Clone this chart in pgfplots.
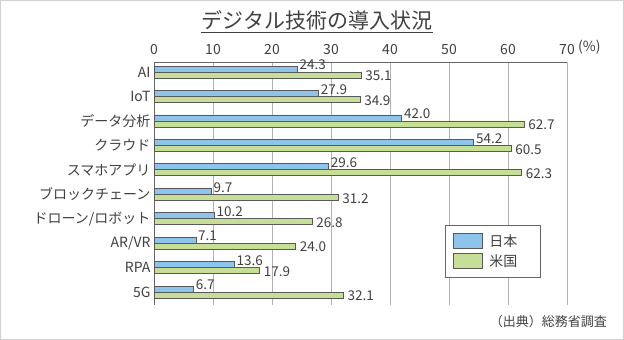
\documentclass[border=0pt]{standalone}
\usepackage{pgfplots}
\pgfplotsset{compat=1.18}
\usepackage{fontspec}
\setmainfont{Noto Sans CJK JP}
\definecolor{jpblue}{HTML}{8EC4EC}
\definecolor{usgreen}{HTML}{C6DE96}
\definecolor{txt}{HTML}{404040}
\begin{document}
\begin{tikzpicture}[x=1pt,y=1pt]
\draw[black!18, line width=1pt] (0.5,0.5) rectangle (623.5,339.5);
\node[font=\fontsize{21}{23}\selectfont, text=txt, inner sep=1pt] (t) at (317,320) {デジタル技術の導入状況};
\draw[txt, line width=0.8pt] ([yshift=-1pt]t.south west) -- ([yshift=-1pt]t.south east);
\begin{axis}[
 at={(154pt,35pt)}, anchor=south west, scale only axis,
 width=413pt, height=243pt,
 xbar, bar width=6pt,
 xmin=0, xmax=70, ymin=-0.41, ymax=9.53, y dir=reverse,
 axis x line*=top, axis y line*=left,
 axis line style={black!60, line width=0.8pt},
 xtick={0,10,...,70},
 ytick={0,...,9},
 yticklabels={AI,IoT,データ分析,クラウド,スマホアプリ,ブロックチェーン,ドローン/ロボット,AR/VR,RPA,5G},
 major tick length=0pt,
 xmajorgrids, grid style={black!30, line width=0.8pt},
 tick label style={text=txt},
 xticklabel style={font=\fontsize{14}{16}\selectfont, yshift=4pt},
 yticklabel style={font=\fontsize{14}{16}\selectfont},
 /pgf/number format/assume math mode=true,
 nodes near coords={\pgfmathprintnumber[fixed,fixed zerofill,precision=1]{\pgfplotspointmeta}},
 every node near coord/.append style={font=\fontsize{13.5}{15}\selectfont, text=txt, anchor=west, inner sep=1pt},
 legend style={at={(0.705,0.329)}, anchor=north west, draw=black!60, line width=0.8pt,
   inner xsep=7pt, inner ysep=7pt, row sep=3pt, font=\fontsize{14}{16}\selectfont, text=txt,
   /tikz/every odd column/.append style={column sep=5pt}},
 legend cell align=left,
 legend image code/.code={\draw[#1, draw=black!65, line width=0.7pt] (0pt,-7.5pt) rectangle (29pt,7.5pt);},
]
\addplot[fill=jpblue, draw=black!65, line width=0.7pt, bar shift=3pt,
  every node near coord/.append style={yshift=4pt, xshift=1pt}]
  coordinates {(24.3,0) (27.9,1) (42.0,2) (54.2,3) (29.6,4) (9.7,5) (10.2,6) (7.1,7) (13.6,8) (6.7,9)};
\addlegendentry{\makebox[42pt][l]{日本}}
\addplot[fill=usgreen, draw=black!65, line width=0.7pt, bar shift=-3pt,
  every node near coord/.append style={yshift=-1pt, xshift=3pt}]
  coordinates {(35.1,0) (34.9,1) (62.7,2) (60.5,3) (62.3,4) (31.2,5) (26.8,6) (24.0,7) (17.9,8) (32.1,9)};
\addlegendentry{\makebox[42pt][l]{米国}}
\end{axis}
\node[anchor=west, font=\fontsize{14}{16}\selectfont, text=txt, inner sep=0pt] at (578,293) {(\%)};
\node[anchor=east, font=\fontsize{13}{15}\selectfont, text=txt, inner sep=0pt] at (607,18) {（出典）総務省調査};
\end{tikzpicture}
\end{document}
